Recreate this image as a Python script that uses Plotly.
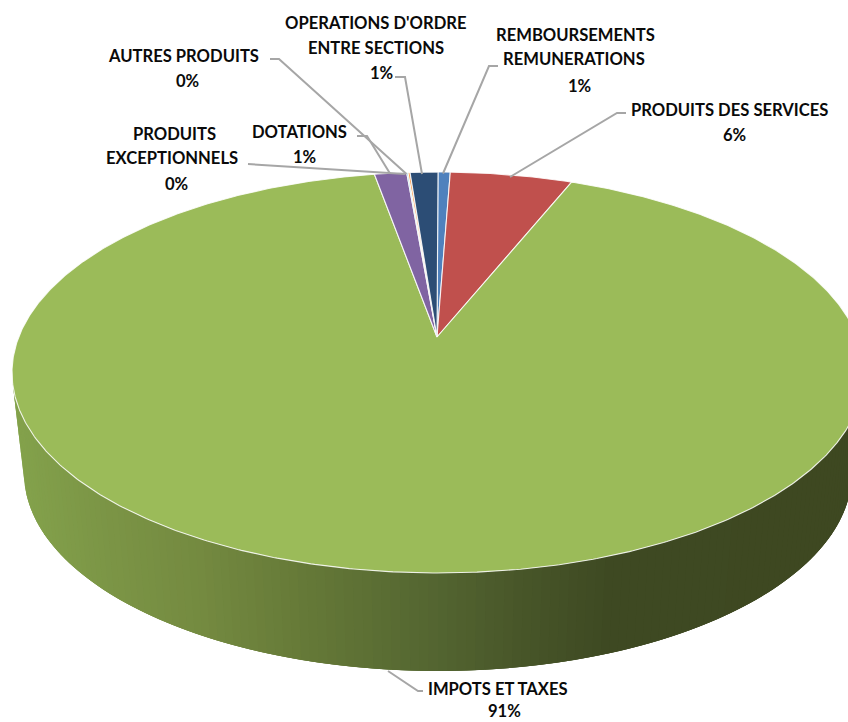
import numpy as np
import plotly.graph_objects as go

# ---- data (percent of total, clockwise from 12 o'clock) ----
categories = ["REMBOURSEMENTS REMUNERATIONS", "PRODUITS DES SERVICES", "IMPOTS ET TAXES",
              "DOTATIONS", "PRODUITS EXCEPTIONNELS", "AUTRES PRODUITS",
              "OPERATIONS D'ORDRE ENTRE SECTIONS"]
values = [0.55, 5.5, 91.1, 1.45, 0.06, 0.09, 1.25]
colors = ["#4F81BD", "#C0504D", "#9BBB59", "#8064A2", "#4BACC6", "#F79646", "#2C4D75"]

# ---- geometry of the drawing (pixels) ----
W, H = 848, 722
CX, CY, RX, RY = 438.0, 372.5, 426.0, 200.5      # top ellipse
BCX, BCY, BRX, BRY = 438.0, 473.0, 414.0, 198.0  # bottom ellipse
APEX_Y = 337.0
A = (APEX_Y - CY) / RY


def rim(theta):
    """Perspective projection of a point on the pie's rim (theta clockwise from top)."""
    X, Y = np.sin(theta), -np.cos(theta)
    d = 1 + A * Y
    return CX + RX * X * np.sqrt(1 - A * A) / d, CY + RY * (Y + A) / d


fig = go.Figure()

# side wall with horizontal gradient (each strip overlaps the next to avoid seams)
stops_x = [12, 100, 200, 300, 430, 520, 610, 848]
stops_c = [(132, 163, 76), (124, 150, 70), (116, 138, 64), (102, 122, 56), (84, 102, 49), (72, 86, 41), (62, 73, 34), (62, 72, 33)]
ts = np.linspace(np.pi, 0, 141)
for i in range(len(ts) - 1):
    tt = ts[i:i + 4]
    xt, yt = CX + RX * np.cos(tt), CY + RY * np.sin(tt)
    xb, yb = BCX + BRX * np.cos(tt), BCY + BRY * np.sin(tt)
    xm = (xt[:2].mean() + xb[:2].mean()) / 2
    c = [int(round(np.interp(xm, stops_x, [s[j] for s in stops_c]))) for j in range(3)]
    col = f"rgb({c[0]},{c[1]},{c[2]})"
    fig.add_trace(go.Scatter(x=np.r_[xt, xb[::-1], xt[0]], y=np.r_[yt, yb[::-1], yt[0]],
                             mode="lines", fill="toself", fillcolor=col, line=dict(width=0),
                             hoverinfo="skip", showlegend=False))

# top face slices
edges = np.cumsum([0] + values) / sum(values) * 2 * np.pi
for name, v, col, a0, a1 in zip(categories, values, colors, edges[:-1], edges[1:]):
    th = np.linspace(a0, a1, max(3, int(v * 8)))
    rx_, ry_ = rim(th)
    fig.add_trace(go.Scatter(x=np.r_[CX - 1, rx_, CX - 1], y=np.r_[APEX_Y, ry_, APEX_Y], mode="lines",
                             fill="toself", fillcolor=col, line=dict(color="rgba(255,255,255,0.85)", width=1.1),
                             name=name, hoverinfo="name", showlegend=False))

# leader lines
leaders = [
    ([270, 279, 406.5], [59, 59, 174]),
    ([395, 405, 422], [77, 77, 174]),
    ([498, 489, 443], [66, 66, 173.5]),
    ([357, 367, 390], [136, 136, 173.5]),
    ([248, 405], [164, 174]),
    ([626, 617, 510], [113, 113, 177]),
    ([388, 418, 423], [671, 691, 691]),
]
for lx, ly in leaders:
    fig.add_trace(go.Scatter(x=lx, y=ly, mode="lines", line=dict(color="#A6A6A6", width=2),
                             hoverinfo="skip", showlegend=False))

# labels: (text, x, y centres)
pct = [f"{v:.0f}%" for v in values]
label_lines = [
    ("REMBOURSEMENTS", 575, 35), ("REMUNERATIONS", 574, 59), (pct[0], 579, 86),
    ("PRODUITS DES SERVICES", 729, 110), (pct[1], 734, 135),
    ("IMPOTS ET TAXES", 498, 689), (pct[2], 504, 711),
    ("DOTATIONS", 299, 132), (pct[3], 304, 157),
    ("PRODUITS", 174, 134), ("EXCEPTIONNELS", 172, 158), (pct[4], 176, 184),
    ("AUTRES PRODUITS", 183, 56), (pct[5], 187, 81),
    ("OPERATIONS D'ORDRE", 376, 23), ("ENTRE SECTIONS", 376, 48), (pct[6], 381, 73),
]
for txt, x, y in label_lines:
    fig.add_annotation(x=x, y=y, text=f"<b>{txt}</b>", showarrow=False, xanchor="center", yanchor="middle",
                       font=dict(family="Lato", size=16.6, color="#0a0a0a"))

fig.update_layout(width=W, height=H, margin=dict(l=0, r=0, t=0, b=0), paper_bgcolor="white",
                  plot_bgcolor="white", showlegend=False,
                  xaxis=dict(range=[0, W], visible=False, fixedrange=True),
                  yaxis=dict(range=[H, 0], visible=False, fixedrange=True))
fig.write_html("out.html", post_script="document.body.style.margin='0';", config={"displayModeBar": False})
